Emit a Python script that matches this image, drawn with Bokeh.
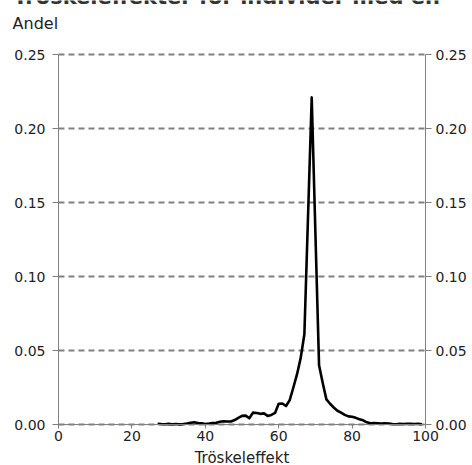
from bokeh.plotting import figure
from bokeh.models import LinearAxis, NumeralTickFormatter, FixedTicker, Label, Range1d
from bokeh.embed import file_html
from bokeh.resources import INLINE

title_text = "Tröskeleffekter för individer med en"
y_label = "Andel"
x_label = "Tröskeleffekt"
x_ticks = [0, 20, 40, 60, 80, 100]
y_ticks = [0.0, 0.05, 0.10, 0.15, 0.20, 0.25]

effekt = [27, 28, 29, 30, 31, 32, 33, 34, 35, 36, 37, 38, 39, 40, 41, 42, 43, 44, 45, 46,
          47, 48, 49, 50, 51, 52, 53, 54, 55, 56, 57, 58, 59, 60, 61, 62, 63, 64, 65, 66,
          67, 68, 69, 70, 71, 72, 73, 74, 75, 76, 77, 78, 79, 80, 81, 82, 83, 84, 85, 86,
          87, 88, 89, 90, 91, 92, 93, 94, 95, 96, 97, 98, 99]
andel = [0.0005, 0.0003, 0.0002, 0.0004, 0.0002, 0.0003, 0.0001, 0.0003, 0.0006, 0.0012,
         0.0015, 0.0010, 0.0008, 0.0003, 0.0006, 0.0010, 0.0012, 0.0018, 0.0022, 0.0020,
         0.0020, 0.0030, 0.0045, 0.0058, 0.0060, 0.0042, 0.0080, 0.0078, 0.0072, 0.0075,
         0.0058, 0.0065, 0.0078, 0.0140, 0.0142, 0.0125, 0.0165, 0.0250, 0.0340, 0.0450,
         0.0610, 0.1410, 0.2210, 0.1300, 0.0400, 0.0280, 0.0170, 0.0140, 0.0115, 0.0093,
         0.0080, 0.0065, 0.0055, 0.0052, 0.0045, 0.0035, 0.0028, 0.0015, 0.0008, 0.0010,
         0.0008, 0.0006, 0.0009, 0.0007, 0.0003, 0.0002, 0.0004, 0.0003, 0.0005, 0.0004,
         0.0003, 0.0005, 0.0002]

FONT = "DejaVu Sans"
TXT = "#222222"
GRAY = "#808080"

# The frame fills the whole canvas; the axes are pinned to the data edges so that
# the texts above and left of the plotting area are not clipped away.
p = figure(width=472, height=465,
           x_range=Range1d(-15.80, 112.81), y_range=Range1d(-0.02770, 0.28649),
           output_backend="svg", toolbar_location=None,
           min_border=0, min_border_left=0, min_border_right=0,
           min_border_top=0, min_border_bottom=0)
p.outline_line_color = None
p.background_fill_color = "white"
p.border_fill_color = "white"
p.xgrid.visible = False
p.ygrid.visible = False

x_lo, x_hi = x_ticks[0], x_ticks[-1]
y_lo, y_hi = y_ticks[0], y_ticks[-1]

# dashed horizontal grid lines at the y ticks
p.segment(x0=[x_lo] * len(y_ticks), y0=y_ticks, x1=[x_hi] * len(y_ticks), y1=y_ticks,
          line_color=GRAY, line_width=1.8, line_dash="6 4")

p.line(effekt, andel, line_color="black", line_width=2.6, line_join="round")

# axes
p.xaxis.ticker = FixedTicker(ticks=x_ticks)
p.xaxis.fixed_location = y_lo
p.xaxis.bounds = (x_lo, x_hi)
p.yaxis.ticker = FixedTicker(ticks=y_ticks)
p.yaxis.formatter = NumeralTickFormatter(format="0.00")
p.yaxis.fixed_location = x_lo
p.yaxis.bounds = (y_lo, y_hi)
right = LinearAxis(ticker=FixedTicker(ticks=y_ticks), formatter=NumeralTickFormatter(format="0.00"),
                   fixed_location=x_hi, bounds=(y_lo, y_hi))
p.add_layout(right, "right")

for ax in p.yaxis + p.xaxis:
    ax.major_label_text_font = FONT
    ax.major_label_text_font_size = "14px"
    ax.major_label_text_color = TXT
    ax.minor_tick_line_color = None
    ax.major_tick_in = 0
    ax.axis_line_color = GRAY
    ax.major_tick_line_color = GRAY

for ax in p.yaxis:
    ax.major_tick_out = 6
p.yaxis[0].major_label_standoff = 7
right.major_label_standoff = 4

p.xaxis.major_tick_out = 4
p.xaxis.major_label_standoff = 2
p.xaxis.axis_label = x_label
p.xaxis.axis_label_text_font = FONT
p.xaxis.axis_label_text_font_size = "15px"
p.xaxis.axis_label_text_font_style = "normal"
p.xaxis.axis_label_text_color = TXT
p.xaxis.axis_label_standoff = 5

# y-axis title at top-left
p.add_layout(Label(x=-12.5, y=0.2712, text=y_label,
                   text_font=FONT, text_font_size="16px", text_color=TXT,
                   text_align="left", text_baseline="alphabetic"))
# heading, cut off by the top edge as in the reference
p.add_layout(Label(x=-12.3, y=0.2886, text=title_text,
                   text_font=FONT, text_font_size="21px", text_font_style="bold",
                   text_color="#333333", text_align="left", text_baseline="alphabetic"))

open("out.html", "w").write(file_html(p, INLINE))
